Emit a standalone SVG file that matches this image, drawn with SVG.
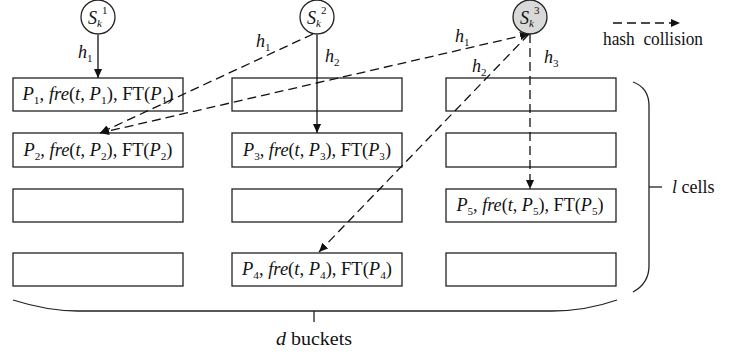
<svg xmlns="http://www.w3.org/2000/svg" width="732" height="354" viewBox="0 0 732 354" font-family="'Liberation Serif', 'Times New Roman', Times, serif">
<defs>
<marker id="ah" viewBox="0 0 10 10" refX="10" refY="5" markerWidth="9" markerHeight="9" markerUnits="userSpaceOnUse" orient="auto-start-reverse"><path d="M0,0.5 L10,5 L0,9.5 z" fill="#111"/></marker>
</defs>
<style>
text{fill:#111;}
.t{font-size:18px;}
.i{font-style:italic;}
.sub{font-size:11px;}
.box{fill:#fff;stroke:#222;stroke-width:1.3;}
.node{fill:#fff;stroke:#222;stroke-width:1.3;}
.solid{fill:none;stroke:#111;stroke-width:1.3;}
.dash{fill:none;stroke:#111;stroke-width:1.3;stroke-dasharray:9 5;}
.brace{fill:none;stroke:#222;stroke-width:1.3;}
</style>

<g id="buckets">
<g id="b1r1"><rect class="box" x="13" y="78" width="170" height="33"/><text class="t" x="98" y="100" text-anchor="middle" textLength="151" lengthAdjust="spacingAndGlyphs"><tspan class="i">P</tspan><tspan class="sub" dy="4">1</tspan><tspan dy="-4">, </tspan><tspan class="i">fre</tspan>(<tspan class="i">t</tspan>, <tspan class="i">P</tspan><tspan class="sub" dy="4">1</tspan><tspan dy="-4">), FT(</tspan><tspan class="i">P</tspan><tspan class="sub" dy="4">1</tspan><tspan dy="-4">)</tspan></text></g>
<g id="b1r2"><rect class="box" x="13" y="133" width="170" height="34"/><text class="t" x="98" y="156" text-anchor="middle" textLength="149" lengthAdjust="spacingAndGlyphs"><tspan class="i">P</tspan><tspan class="sub" dy="4">2</tspan><tspan dy="-4">, </tspan><tspan class="i">fre</tspan>(<tspan class="i">t</tspan>, <tspan class="i">P</tspan><tspan class="sub" dy="4">2</tspan><tspan dy="-4">), FT(</tspan><tspan class="i">P</tspan><tspan class="sub" dy="4">2</tspan><tspan dy="-4">)</tspan></text></g>
<g id="b1r3"><rect class="box" x="13" y="189" width="170" height="33"/></g>
<g id="b1r4"><rect class="box" x="13" y="253" width="170" height="33"/></g>

<g id="b2r1"><rect class="box" x="232" y="78" width="170" height="33"/></g>
<g id="b2r2"><rect class="box" x="232" y="133" width="170" height="34"/><text class="t" x="317" y="156" text-anchor="middle" textLength="148" lengthAdjust="spacingAndGlyphs"><tspan class="i">P</tspan><tspan class="sub" dy="4">3</tspan><tspan dy="-4">, </tspan><tspan class="i">fre</tspan>(<tspan class="i">t</tspan>, <tspan class="i">P</tspan><tspan class="sub" dy="4">3</tspan><tspan dy="-4">), FT(</tspan><tspan class="i">P</tspan><tspan class="sub" dy="4">3</tspan><tspan dy="-4">)</tspan></text></g>
<g id="b2r3"><rect class="box" x="232" y="189" width="170" height="33"/></g>
<g id="b2r4"><rect class="box" x="232" y="253" width="170" height="33"/><text class="t" x="317" y="275" text-anchor="middle" textLength="150" lengthAdjust="spacingAndGlyphs"><tspan class="i">P</tspan><tspan class="sub" dy="4">4</tspan><tspan dy="-4">, </tspan><tspan class="i">fre</tspan>(<tspan class="i">t</tspan>, <tspan class="i">P</tspan><tspan class="sub" dy="4">4</tspan><tspan dy="-4">), FT(</tspan><tspan class="i">P</tspan><tspan class="sub" dy="4">4</tspan><tspan dy="-4">)</tspan></text></g>

<g id="b3r1"><rect class="box" x="446" y="78" width="170" height="33"/></g>
<g id="b3r2"><rect class="box" x="446" y="133" width="170" height="34"/></g>
<g id="b3r3"><rect class="box" x="446" y="189" width="170" height="33"/><text class="t" x="530" y="211" text-anchor="middle" textLength="147" lengthAdjust="spacingAndGlyphs"><tspan class="i">P</tspan><tspan class="sub" dy="4">5</tspan><tspan dy="-4">, </tspan><tspan class="i">fre</tspan>(<tspan class="i">t</tspan>, <tspan class="i">P</tspan><tspan class="sub" dy="4">5</tspan><tspan dy="-4">), FT(</tspan><tspan class="i">P</tspan><tspan class="sub" dy="4">5</tspan><tspan dy="-4">)</tspan></text></g>
<g id="b3r4"><rect class="box" x="446" y="253" width="170" height="33"/></g>
</g>

<g id="connectors">
<path class="solid" d="M98,35 L98,78" marker-end="url(#ah)"/>
<path class="solid" d="M317,35 L317,133" marker-end="url(#ah)"/>
<path class="dash" d="M313,34 L100,133" marker-end="url(#ah)"/>
<path class="dash" d="M529,34 L100,133" marker-start="url(#ah)" marker-end="url(#ah)"/>
<path class="dash" d="M529,34 L319,252" marker-end="url(#ah)"/>
<path class="dash" d="M530,34 L530,189" marker-end="url(#ah)"/>
<text class="t" x="78" y="58"><tspan class="i">h</tspan><tspan class="sub" dy="4">1</tspan></text>
<text class="t" x="325" y="62"><tspan class="i">h</tspan><tspan class="sub" dy="4">2</tspan></text>
<text class="t" x="256" y="47"><tspan class="i">h</tspan><tspan class="sub" dy="4">1</tspan></text>
<text class="t" x="455" y="42"><tspan class="i">h</tspan><tspan class="sub" dy="4">1</tspan></text>
<text class="t" x="472" y="72"><tspan class="i">h</tspan><tspan class="sub" dy="4">2</tspan></text>
<text class="t" x="544" y="63"><tspan class="i">h</tspan><tspan class="sub" dy="4">3</tspan></text>
</g>

<g id="s1"><circle class="node" cx="98" cy="17" r="17"/><text class="t" x="88" y="24"><tspan class="i">S</tspan><tspan class="sub i" dy="3">k</tspan><tspan class="sub" dy="-13">1</tspan></text></g>
<g id="s2"><circle class="node" cx="317" cy="17" r="17"/><text class="t" x="307" y="24"><tspan class="i">S</tspan><tspan class="sub i" dy="3">k</tspan><tspan class="sub" dy="-13">2</tspan></text></g>
<g id="s3"><circle class="node" cx="530" cy="17" r="17" style="fill:#d9d9d9"/><text class="t" x="520" y="24"><tspan class="i">S</tspan><tspan class="sub i" dy="3">k</tspan><tspan class="sub" dy="-13">3</tspan></text></g>

<g id="legend">
<path class="dash" d="M613,23 L680,23" marker-end="url(#ah)"/>
<text class="t" x="603" y="45" textLength="100" lengthAdjust="spacingAndGlyphs" style="white-space:pre">hash  collision</text>
</g>

<g id="cells-brace">
<path class="brace" d="M633,82 C644,86 649,94 649,106 L649,266 C649,278 644,286 633,292"/>
<path class="brace" d="M649,187 L662,187"/>
<text class="t" x="672" y="193"><tspan class="i">l</tspan> cells</text>
</g>

<g id="buckets-brace">
<path class="brace" d="M13,300 C35,307 55,311 78,311 L552,311 C575,311 597,307 617,300"/>
<path class="brace" d="M314,311 L314,322"/>
<text class="t" x="314" y="345" text-anchor="middle" textLength="76" lengthAdjust="spacingAndGlyphs"><tspan class="i">d</tspan> buckets</text>
</g>
</svg>
